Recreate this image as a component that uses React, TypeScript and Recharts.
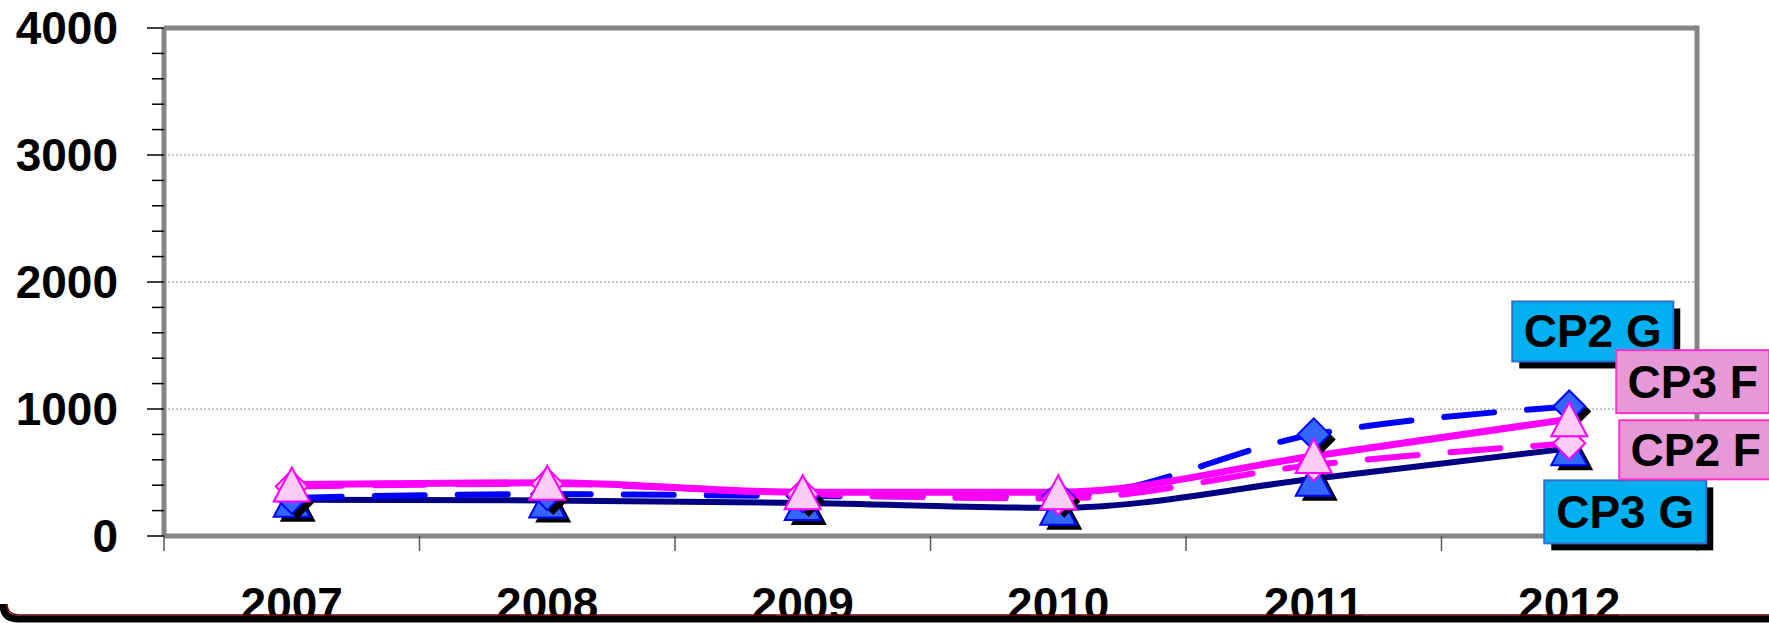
import React from 'react';
import { LineChart, Line, XAxis, YAxis, CartesianGrid, LabelList, ReferenceLine } from 'recharts';

const years = ['2007', '2008', '2009', '2010', '2011', '2012'];
const cp2g = [300, 330, 315, 310, 800, 1020];
const cp3g = [285, 280, 260, 222, 450, 690];
const cp3f = [405, 420, 345, 345, 630, 920];
const cp2f = [390, 410, 330, 295, 560, 730];

const yTicks = [0, 200, 400, 600, 800, 1000, 1200, 1400, 1600, 1800, 2000, 2200, 2400, 2600, 2800, 3000, 3200, 3400, 3600, 3800, 4000];
const gridValues = [1000, 2000, 3000];

const W = 1769;
const H = 623;
const margin = { top: 28, right: 72, left: 0, bottom: 0 };
const Y_W = 164;
const X_H = 87;
const PLOT_W = W - margin.right - Y_W;
const HALF_BAND = PLOT_W / years.length / 2;
const FONT = 'Arial, "Liberation Sans", sans-serif';
const FRAME = '#858585';

const data = years.map((year, i) => ({
  year,
  cp2g: cp2g[i],
  cp3g: cp3g[i],
  cp3f: cp3f[i],
  cp2f: cp2f[i],
}));

const triangleDot = (fill: string, stroke: string, shadow: boolean) => (props: any) => {
  const { cx, cy, index } = props;
  if (cx == null || cy == null) return <g key={`t-${index}`} />;
  const pts = (dx: number, dy: number) =>
    `${cx + dx},${cy - 17 + dy} ${cx - 18 + dx},${cy + 17 + dy} ${cx + 18 + dx},${cy + 17 + dy}`;
  return (
    <g key={`t-${index}`}>
      {shadow && <polygon points={pts(6, 5)} fill="#000" />}
      <polygon points={pts(0, 0)} fill={fill} stroke={stroke} strokeWidth={2} />
    </g>
  );
};

const diamondDot = (fill: string, stroke: string, shadow: boolean) => (props: any) => {
  const { cx, cy, index } = props;
  if (cx == null || cy == null) return <g key={`d-${index}`} />;
  const pts = (dx: number, dy: number) =>
    `${cx + dx},${cy - 16 + dy} ${cx + 16 + dx},${cy + dy} ${cx + dx},${cy + 16 + dy} ${cx - 16 + dx},${cy + dy}`;
  return (
    <g key={`d-${index}`}>
      {shadow && <polygon points={pts(6, 5)} fill="#000" />}
      <polygon points={pts(0, 0)} fill={fill} stroke={stroke} strokeWidth={2} />
    </g>
  );
};

// series name box next to the last point
const boxLabel = (text: string, fill: string, stroke: string, dx: number, dy: number, w: number, h: number, shadow: boolean) =>
  (props: any) => {
    const { index } = props;
    if (index !== years.length - 1) return null;
    const px = props.viewBox?.x ?? props.x;
    const py = props.viewBox?.y ?? props.y;
    const left = px + dx;
    const top = py + dy;
    return (
      <g>
        {shadow && <rect x={left + 7} y={top + 7} width={w} height={h} fill="#000" />}
        <rect x={left} y={top} width={w} height={h} fill={fill} stroke={stroke} strokeWidth={2} />
        <text
          x={left + w / 2}
          y={top + h / 2}
          textAnchor="middle"
          dominantBaseline="central"
          fontSize={46}
          fontWeight="bold"
          fontFamily={FONT}
          fill="#000"
        >
          {text}
        </text>
      </g>
    );
  };

const YTick = (props: any) => {
  const { x, y, payload } = props;
  const major = payload.value % 1000 === 0;
  return (
    <g>
      <line x1={x - (major ? 17 : 12)} x2={x} y1={y} y2={y} stroke="#000" strokeWidth={1.5} />
      {major && (
        <text x={x - 46} y={y} textAnchor="end" dominantBaseline="central" fontSize={46} fontWeight="bold" fontFamily={FONT} fill="#000">
          {payload.value}
        </text>
      )}
    </g>
  );
};

const XTick = (props: any) => {
  const { x, y, payload, index } = props;
  return (
    <g>
      <line x1={x - HALF_BAND} x2={x - HALF_BAND} y1={y} y2={y + 15} stroke="#555" strokeWidth={1.5} />
      {index === years.length - 1 && (
        <line x1={x + HALF_BAND} x2={x + HALF_BAND} y1={y} y2={y + 15} stroke="#555" strokeWidth={1.5} />
      )}
      <text x={x} y={y + 84} textAnchor="middle" fontSize={46} fontWeight="bold" fontFamily={FONT} fill="#000">
        {payload.value}
      </text>
    </g>
  );
};

const App: React.FC = () => {
  const plotRight = W - margin.right;
  const plotBottom = H - X_H;
  return (
    <div style={{ position: 'absolute', left: 0, top: 0, width: W, height: H, background: '#fff', overflow: 'hidden' }}>
      {/* right side of the plot frame, kept under the chart so the name boxes cover it */}
      <svg width={W} height={H} style={{ position: 'absolute', left: 0, top: 0 }}>
        <line x1={plotRight} x2={plotRight} y1={margin.top - 2.5} y2={plotBottom} stroke={FRAME} strokeWidth={5} />
      </svg>
      <div style={{ position: 'absolute', left: 0, top: 0 }}>
        <LineChart width={W} height={H} data={data} margin={margin}>
          <CartesianGrid horizontal vertical={false} horizontalValues={gridValues} stroke="#8c8c8c" strokeDasharray="2 2" />
          <XAxis
            dataKey="year"
            height={X_H}
            padding={{ left: HALF_BAND, right: HALF_BAND }}
            axisLine={{ stroke: FRAME, strokeWidth: 5 }}
            tickLine={false}
            tickSize={0}
            tickMargin={0}
            tick={<XTick />}
            interval={0}
          />
          <YAxis
            width={Y_W}
            domain={[0, 4000]}
            ticks={yTicks}
            interval={0}
            axisLine={{ stroke: FRAME, strokeWidth: 5 }}
            tickLine={false}
            tickSize={0}
            tickMargin={0}
            tick={<YTick />}
          />
          <ReferenceLine y={4000} stroke={FRAME} strokeWidth={5} />

          <Line
            type="monotone"
            dataKey="cp3g"
            stroke="#000080"
            strokeWidth={6}
            dot={triangleDot('#3366FF', '#0000FF', true)}
            activeDot={false}
            isAnimationActive={false}
          >
            <LabelList dataKey="cp3g" content={boxLabel('CP3 G', '#00B0F0', '#2F6FD0', -25, 32, 162, 63, true)} />
          </Line>
          <Line
            type="monotone"
            dataKey="cp2g"
            stroke="#0000FF"
            strokeWidth={6}
            strokeDasharray="50 33"
            strokeLinecap="round"
            dot={diamondDot('#3366FF', '#0000FF', true)}
            activeDot={false}
            isAnimationActive={false}
          >
            <LabelList dataKey="cp2g" content={boxLabel('CP2 G', '#00B0F0', '#2F6FD0', -57, -105, 161, 60, true)} />
          </Line>
          <Line
            type="monotone"
            dataKey="cp2f"
            stroke="#FF00FF"
            strokeWidth={6}
            strokeDasharray="50 33"
            strokeLinecap="round"
            dot={diamondDot('#FFCCF5', '#FF00FF', false)}
            activeDot={false}
            isAnimationActive={false}
          >
            <LabelList dataKey="cp2f" content={boxLabel('CP2 F', '#E699D6', '#FF33CC', 50, -23, 153, 59, false)} />
          </Line>
          <Line
            type="monotone"
            dataKey="cp3f"
            stroke="#FF00FF"
            strokeWidth={7}
            dot={triangleDot('#FFCCF5', '#FF00FF', false)}
            activeDot={false}
            isAnimationActive={false}
          >
            <LabelList dataKey="cp3f" content={boxLabel('CP3 F', '#E699D6', '#FF33CC', 47, -69, 153, 63, false)} />
          </Line>
        </LineChart>
      </div>
      {/* slide frame at the bottom */}
      <svg width={W} height={H} style={{ position: 'absolute', left: 0, top: 0, pointerEvents: 'none' }}>
        <path d="M 3 604 Q 3 619 18 619 L 1769 619" fill="none" stroke="#000" strokeWidth={7} />
        <path d="M 7 604 Q 7 615 20 615 L 1769 615" fill="none" stroke="#6b0000" strokeWidth={1.5} />
      </svg>
    </div>
  );
};

export default App;
